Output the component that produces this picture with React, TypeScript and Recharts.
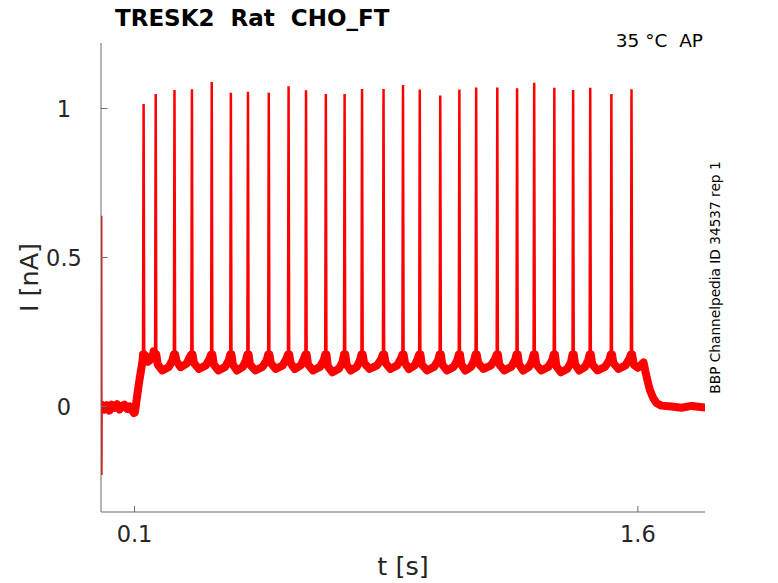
import React from 'react';
import { LineChart, Line, XAxis, YAxis } from 'recharts';

// ---- data ----
const xTicks = [0.1, 1.6];
const yTicks = [0, 0.5, 1];
const xDomain = [0, 1.8];
const yDomain = [-0.354, 1.22];

// initial capacitive transient at t ~ 0
const transientTimes = [0, 0.0006, 0.0012, 0.0018];
const transientValues = [0, 0.64, -0.23, 0];

// holding level before the step
const preTimes = [0.004, 0.01, 0.018, 0.025, 0.032, 0.04, 0.048, 0.055, 0.062, 0.07, 0.078, 0.085, 0.092, 0.098, 0.101, 0.112, 0.124];
const preValues = [0.005, -0.01, 0.004, -0.014, 0.006, -0.004, 0.008, -0.01, 0.002, 0.006, -0.008, 0.0, -0.012, -0.022, -0.02, 0.07, 0.155];

// action-potential currents
const spikeTimes = [0.127, 0.163, 0.219, 0.271, 0.330, 0.387, 0.438, 0.500, 0.559, 0.611, 0.670, 0.726, 0.778, 0.842, 0.900, 0.950, 1.011, 1.068, 1.118, 1.181, 1.240, 1.291, 1.351, 1.407, 1.458, 1.521, 1.581];
const spikePeaks = [1.015, 1.049, 1.062, 1.065, 1.089, 1.053, 1.056, 1.053, 1.075, 1.061, 1.049, 1.049, 1.066, 1.066, 1.079, 1.064, 1.044, 1.064, 1.071, 1.071, 1.068, 1.087, 1.070, 1.062, 1.070, 1.049, 1.065];
const spikeBase = 0.175;
// trough level between consecutive spikes
const interTroughs = [0.15, 0.121, 0.132, 0.126, 0.121, 0.121, 0.121, 0.126, 0.126, 0.121, 0.115, 0.121, 0.126, 0.126, 0.126, 0.121, 0.121, 0.121, 0.126, 0.121, 0.121, 0.121, 0.115, 0.121, 0.121, 0.126];

// end of the step and return to holding
const tailTimes = [1.588, 1.600, 1.610, 1.617, 1.622, 1.628, 1.636, 1.645, 1.655, 1.67, 1.70, 1.73, 1.76, 1.8];
const tailValues = [0.14, 0.13, 0.14, 0.148, 0.12, 0.09, 0.055, 0.03, 0.012, 0.003, 0.0, -0.004, 0.002, -0.003];

type Pt = { t: number; I: number; band: number | null };

function buildTrace(): Pt[] {
  const pts: Pt[] = [];
  const push = (t: number, v: number, band = true) => pts.push({ t, I: v, band: band ? v : null });
  transientTimes.forEach((t, i) => push(t, transientValues[i], i === 0 || i === transientTimes.length - 1));
  preTimes.forEach((t, i) => push(t, preValues[i]));
  spikeTimes.forEach((ts, i) => {
    push(ts - 0.0018, spikeBase);
    push(ts, spikePeaks[i], false);
    push(ts + 0.0018, spikeBase);
    if (i < spikeTimes.length - 1) {
      const next = spikeTimes[i + 1];
      const L = next - ts;
      const tr = interTroughs[i];
      push(ts + 0.006, tr + 0.02);
      push(ts + 0.35 * L, tr);
      push(ts + 0.7 * L, tr + 0.012);
      push(next - 0.006, tr + 0.035);
    }
  });
  tailTimes.forEach((t, i) => push(t, tailValues[i]));
  return pts;
}

const trace = buildTrace();

const AXIS = '#6b6b6b';
const TXT = '#262626';
const FONT = 'DejaVu Sans';

const XTick = (props: any) => {
  const { x, y, payload } = props;
  return (
    <g>
      <line x1={x} x2={x} y1={y} y2={y - 6} stroke={AXIS} strokeWidth={1} />
      <text x={x} y={y + 30} textAnchor="middle" fontFamily={FONT} fontSize={22.5} fill={TXT}>
        {String(payload.value)}
      </text>
    </g>
  );
};

const YTick = (props: any) => {
  const { x, y, payload } = props;
  return (
    <g>
      <line x1={x} x2={x + 6.5} y1={y} y2={y} stroke={AXIS} strokeWidth={1} />
      <text x={x - 37} y={y + 8} textAnchor="middle" fontFamily={FONT} fontSize={22.5} fill={TXT}>
        {String(payload.value)}
      </text>
    </g>
  );
};

export default function App() {
  return (
    <div style={{ position: 'absolute', left: 0, top: 0, width: 778, height: 583, background: '#fff' }}>
      <LineChart
        width={778}
        height={583}
        data={trace}
        margin={{ top: 43, right: 73, bottom: 31, left: 61 }}
      >
        <XAxis
          dataKey="t"
          type="number"
          domain={xDomain}
          ticks={xTicks}
          allowDataOverflow
          height={40}
          tickSize={0}
          tickMargin={0}
          tickLine={false}
          axisLine={{ stroke: AXIS, strokeWidth: 1 }}
          tick={<XTick />}
          interval={0}
        />
        <YAxis
          type="number"
          domain={yDomain}
          ticks={yTicks}
          allowDataOverflow
          width={40}
          tickSize={0}
          tickMargin={0}
          tickLine={false}
          axisLine={{ stroke: AXIS, strokeWidth: 1 }}
          tick={<YTick />}
          interval={0}
        />
        <Line
          dataKey="band"
          type="linear"
          stroke="#ff0000"
          strokeWidth={8}
          strokeLinejoin="round"
          strokeLinecap="round"
          dot={false}
          connectNulls
          isAnimationActive={false}
        />
        <Line
          dataKey="I"
          type="linear"
          stroke="#ff0000"
          strokeWidth={2.5}
          dot={false}
          isAnimationActive={false}
        />
      </LineChart>
      <svg
        width={778}
        height={583}
        style={{ position: 'absolute', left: 0, top: 0, pointerEvents: 'none' }}
      >
        <text x={115} y={26} fontFamily={FONT} fontWeight="bold" fontSize={23} fill="#000" xmlSpace="preserve" style={{ whiteSpace: 'pre' }}>
          {'TRESK2  Rat  CHO_FT'}
        </text>
        <text x={703} y={47} textAnchor="end" fontFamily={FONT} fontSize={18.5} fill="#000" xmlSpace="preserve" style={{ whiteSpace: 'pre' }}>
          {'35 °C  AP'}
        </text>
        <text x={720} y={277.5} transform="rotate(-90, 720, 277.5)" textAnchor="middle" fontFamily={FONT} fontSize={13.7} fill="#000">
          BBP Channelpedia ID 34537 rep 1
        </text>
        <text x={38} y={277.5} transform="rotate(-90, 38, 277.5)" textAnchor="middle" fontFamily={FONT} fontSize={25.5} fill={TXT} xmlSpace="preserve" style={{ whiteSpace: 'pre' }}>
          {'I [nA]'}
        </text>
        <text x={403} y={575} textAnchor="middle" fontFamily={FONT} fontSize={25.5} fill={TXT} xmlSpace="preserve" style={{ whiteSpace: 'pre' }}>
          {'t [s]'}
        </text>
      </svg>
    </div>
  );
}
